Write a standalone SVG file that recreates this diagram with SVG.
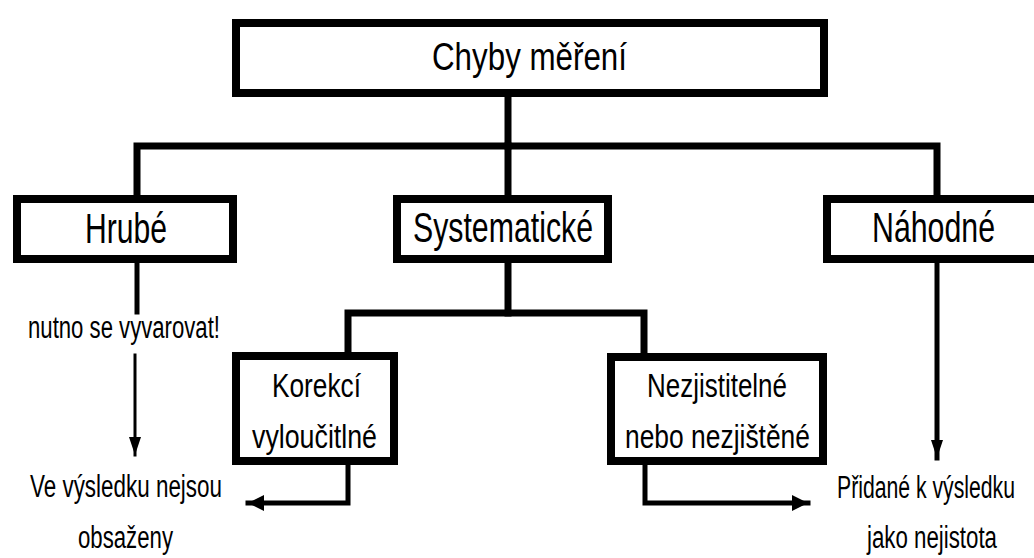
<svg xmlns="http://www.w3.org/2000/svg" width="1034" height="558" viewBox="0 0 1034 558">
  <style>
    .box { fill: #fff; stroke: #000; stroke-width: 8; }
    .wire { fill: none; stroke: #000; stroke-linecap: square; stroke-linejoin: miter; }
    .thick { stroke-width: 7; }
    .mid { stroke-width: 5; }
    .thin { stroke-width: 3; }
    text { font-family: "Liberation Sans", Arial, sans-serif; fill: #000; }
    .t1 { font-size: 38px; }
    .t2 { font-size: 42px; }
    .t3 { font-size: 33px; }
    .note { font-size: 31px; }
  </style>
  <defs>
    <marker id="head" viewBox="0 0 10 10" refX="10" refY="5" markerWidth="16" markerHeight="16" markerUnits="userSpaceOnUse" orient="auto">
      <path d="M0,0 L10,5 L0,10 z" fill="#000"/>
    </marker>
    <marker id="headNarrow" viewBox="0 0 10 10" refX="10" refY="5" markerWidth="18" markerHeight="12" markerUnits="userSpaceOnUse" orient="auto" preserveAspectRatio="none">
      <path d="M0,0 L10,5 L0,10 z" fill="#000"/>
    </marker>
  </defs>

  <rect width="1034" height="558" fill="#fff"/>

  <!-- tree links and result arrows -->
  <g id="connectors">
    <path class="wire thick" d="M508,97 V146"/>
    <path class="wire thick" d="M137,195 V146 H937 V195"/>
    <path class="wire thick" d="M508,146 V195"/>
    <path class="wire thick" d="M508,263 V313"/>
    <path class="wire thick" d="M348,352 V313 H644 V353"/>
    <path class="wire mid" d="M137,263 V312"/>
    <path class="wire thin" d="M135,355 V455" marker-end="url(#headNarrow)"/>
    <path class="wire mid" d="M937,263 V458" marker-end="url(#headNarrow)"/>
    <path class="wire mid" d="M348,465 V503 H248" marker-end="url(#head)"/>
    <path class="wire mid" d="M645,465 V503 H808" marker-end="url(#head)"/>
  </g>

  <g id="chyby-mereni">
    <rect class="box" x="236" y="23" width="588" height="70"/>
    <text class="t1" x="432" y="70" textLength="195" lengthAdjust="spacingAndGlyphs">Chyby měření</text>
  </g>

  <g id="hrube">
    <rect class="box" x="17" y="199" width="216" height="60"/>
    <text class="t2" x="85" y="243" textLength="82" lengthAdjust="spacingAndGlyphs">Hrubé</text>
  </g>

  <g id="systematicke">
    <rect class="box" x="397" y="199" width="211" height="60"/>
    <text class="t2" x="413" y="242" textLength="180" lengthAdjust="spacingAndGlyphs">Systematické</text>
  </g>

  <g id="nahodne">
    <rect class="box" x="827" y="199" width="220" height="60"/>
    <text class="t2" x="872" y="242" textLength="123" lengthAdjust="spacingAndGlyphs">Náhodné</text>
  </g>

  <g id="korekci">
    <rect class="box" x="236" y="356" width="158" height="105"/>
    <text class="t3" x="272" y="397" textLength="89" lengthAdjust="spacingAndGlyphs">Korekcí</text>
    <text class="t3" x="252" y="448" textLength="125" lengthAdjust="spacingAndGlyphs">vyloučitlné</text>
  </g>

  <g id="nezjistitelne">
    <rect class="box" x="611" y="357" width="212" height="104"/>
    <text class="t3" x="647" y="397" textLength="140" lengthAdjust="spacingAndGlyphs">Nezjistitelné</text>
    <text class="t3" x="625" y="448" textLength="185" lengthAdjust="spacingAndGlyphs">nebo nezjištěné</text>
  </g>

  <g id="notes">
    <text class="note" x="28" y="338" textLength="192" lengthAdjust="spacingAndGlyphs">nutno se vyvarovat!</text>
    <text class="note" x="30" y="497" textLength="192" lengthAdjust="spacingAndGlyphs">Ve výsledku nejsou</text>
    <text class="note" x="78" y="548" textLength="95" lengthAdjust="spacingAndGlyphs">obsaženy</text>
    <text class="note" x="837" y="498" textLength="178" lengthAdjust="spacingAndGlyphs">Přidané k výsledku</text>
    <text class="note" x="867" y="548" textLength="130" lengthAdjust="spacingAndGlyphs">jako nejistota</text>
  </g>
</svg>
